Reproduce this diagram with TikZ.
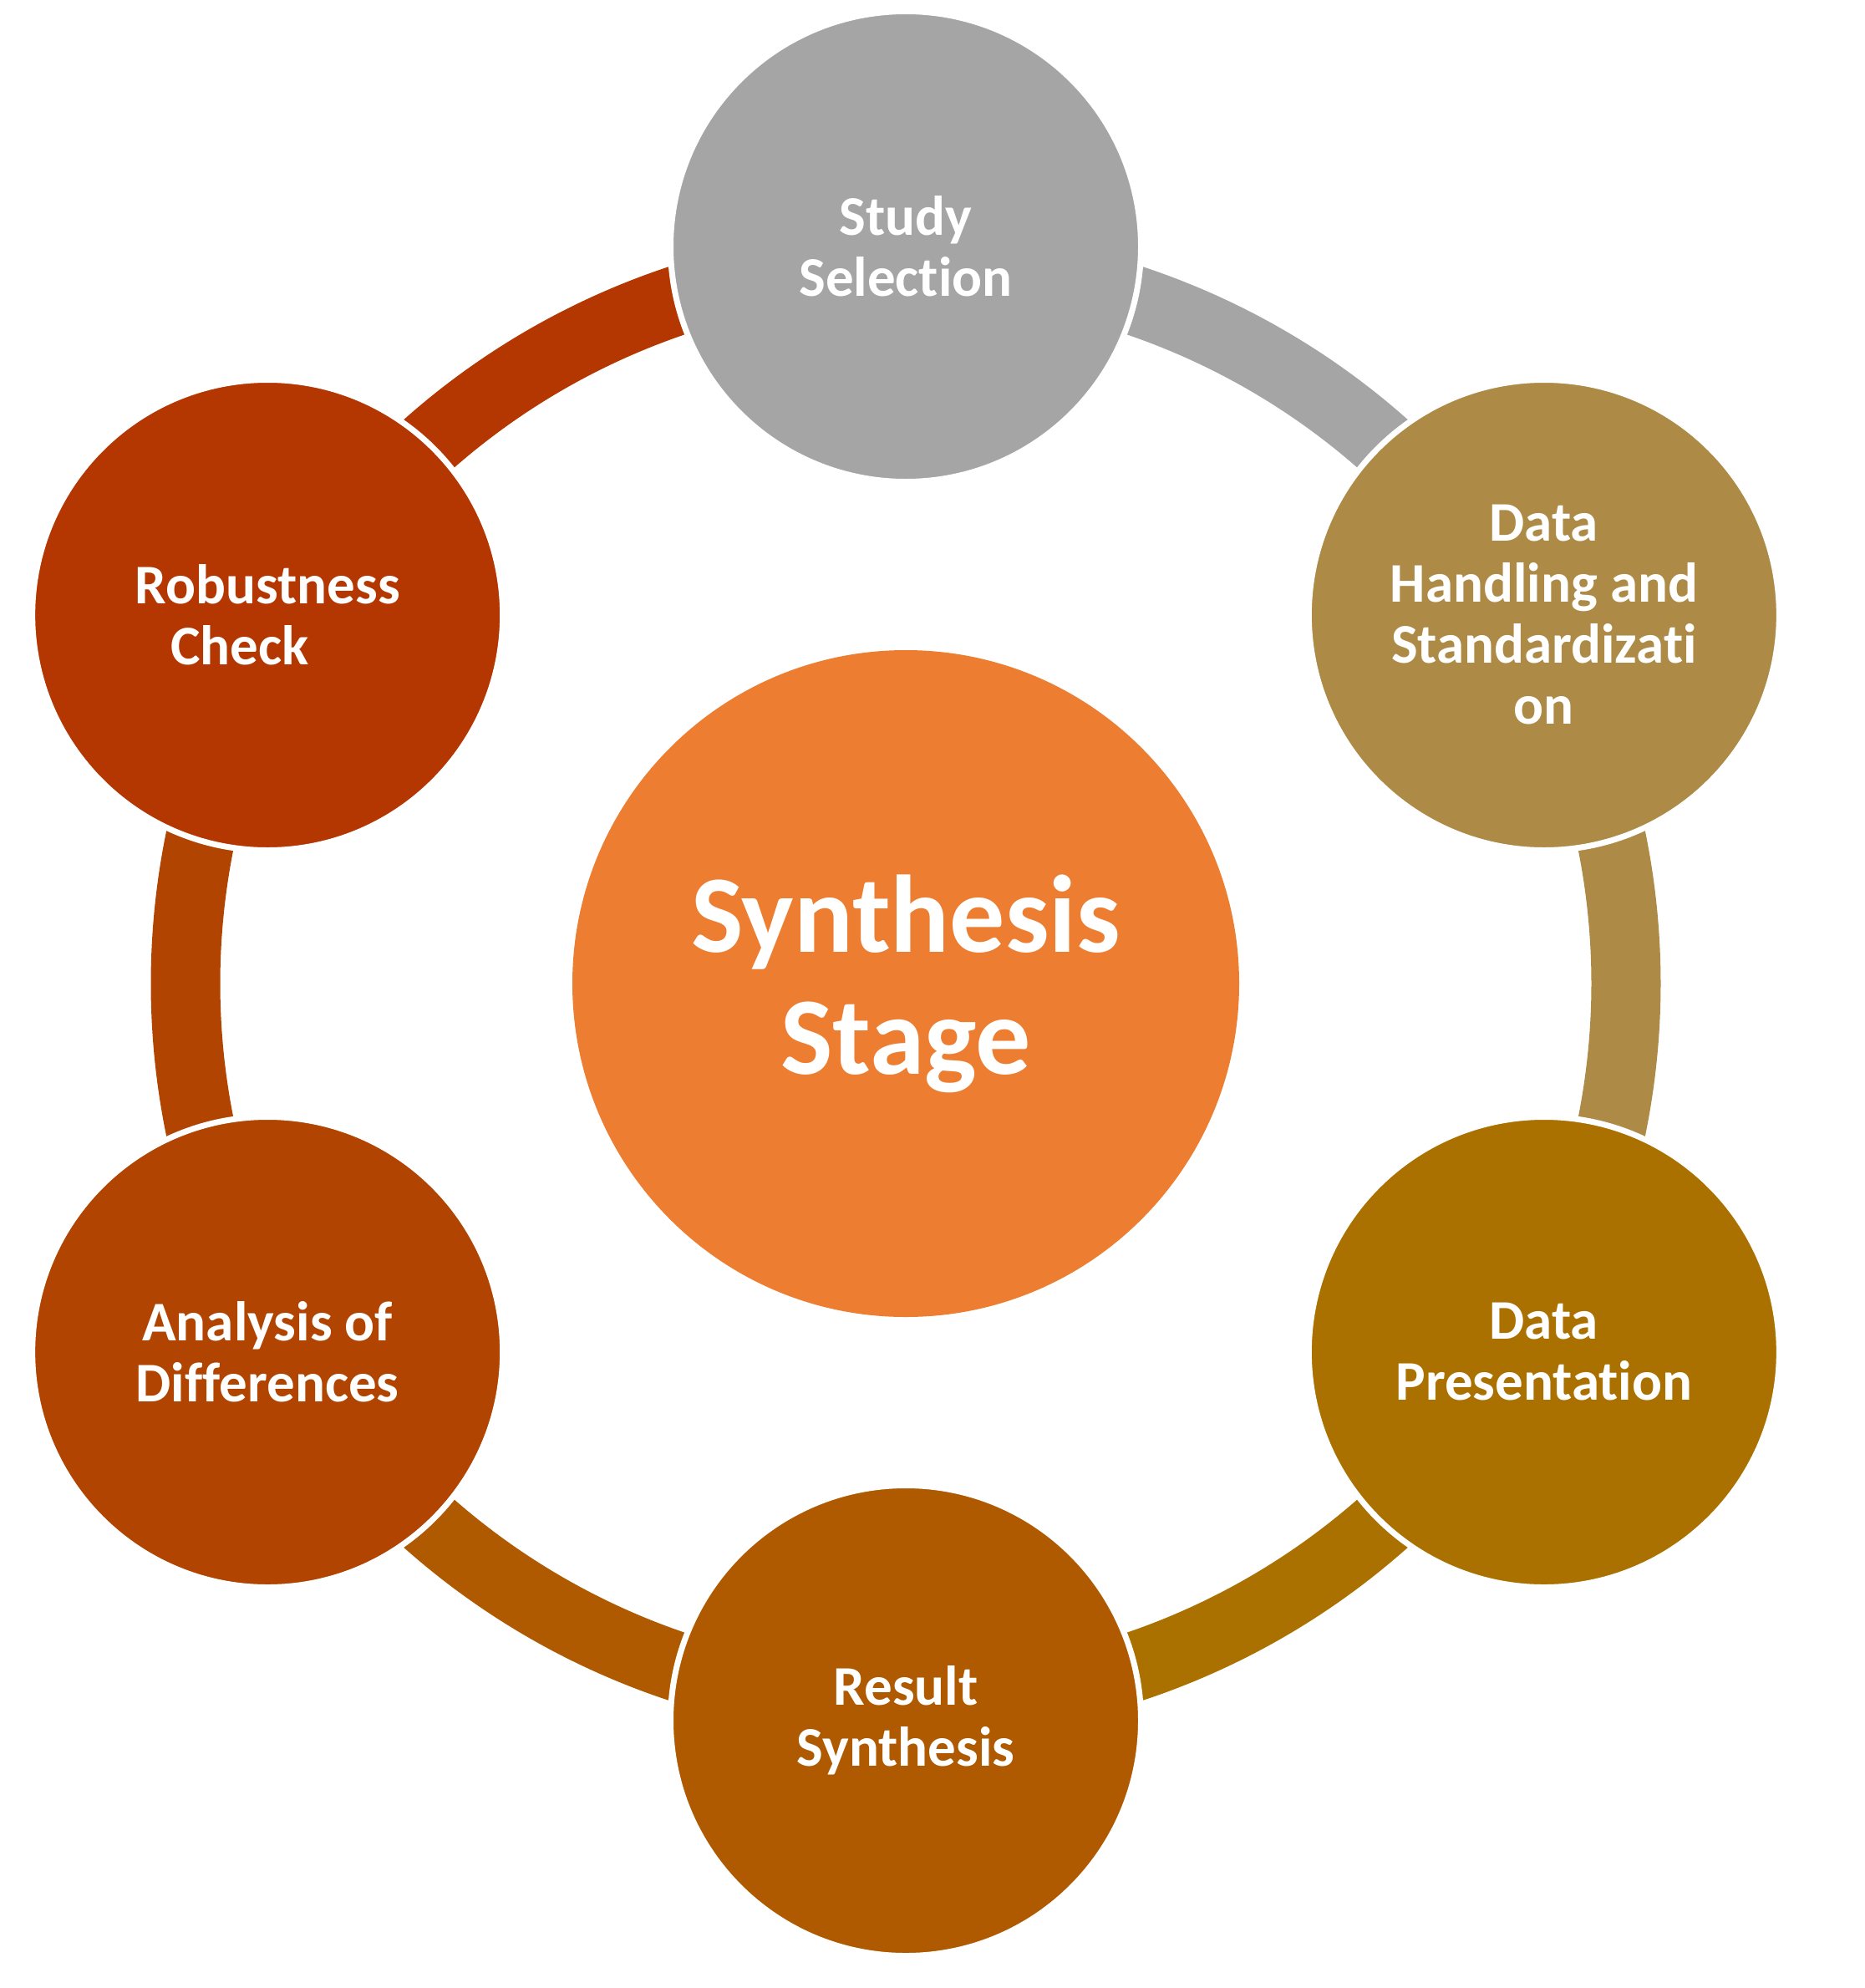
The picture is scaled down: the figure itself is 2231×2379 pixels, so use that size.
\documentclass[tikz,border=0pt]{standalone}
\usepackage{fontspec}
\setmainfont[Ligatures=NoCommon]{Carlito}
\definecolor{cStudy}{HTML}{A5A5A5}
\definecolor{cHandle}{HTML}{AD8B47}
\definecolor{cPresent}{HTML}{AB7100}
\definecolor{cResult}{HTML}{AF5A00}
\definecolor{cAnalysis}{HTML}{B04400}
\definecolor{cRobust}{HTML}{B43600}
\definecolor{cCenter}{HTML}{ED7D31}
\begin{document}
\begin{tikzpicture}[x=1pt,y=1pt,
  stage/.style={circle, draw=white, line width=7pt, minimum size=563pt, inner sep=0pt,
    text=white, align=center, font=\bfseries\fontsize{67}{73}\selectfont},
  hub/.style={circle, minimum size=798pt, inner sep=0pt, fill=cCenter,
    text=white, align=center, font=\bfseries\fontsize{132}{146}\selectfont},
  band/.style={line width=83pt}]
\useasboundingbox (0,0) rectangle (2231,-2379);
\coordinate (C) at (1084,-1177);
% ring segments
\draw[band, cStudy]    (C) ++(90:862)   arc[start angle=90,  end angle=30,   radius=862];
\draw[band, cHandle]   (C) ++(30:862)   arc[start angle=30,  end angle=-30,  radius=862];
\draw[band, cPresent]  (C) ++(-30:862)  arc[start angle=-30, end angle=-90,  radius=862];
\draw[band, cResult]   (C) ++(-90:862)  arc[start angle=-90, end angle=-150, radius=862];
\draw[band, cAnalysis] (C) ++(-150:862) arc[start angle=-150,end angle=-210, radius=862];
\draw[band, cRobust]   (C) ++(150:862)  arc[start angle=150, end angle=90,   radius=862];
% centre
\node[hub] (hub) at (C) {Synthesis\\Stage};
% stages
\node[stage, fill=cStudy]    (study)    at ([shift={(90:882)}]C)   {Study\\Selection};
\node[stage, fill=cHandle]   (handle)   at ([shift={(30:882)}]C)   {Data\\Handling and\\Standardizati\\on};
\node[stage, fill=cPresent]  (present)  at ([shift={(-30:882)}]C)  {Data\\Presentation};
\node[stage, fill=cResult]   (result)   at ([shift={(-90:882)}]C)  {Result\\Synthesis};
\node[stage, fill=cAnalysis] (analysis) at ([shift={(-150:882)}]C) {Analysis of\\Differences};
\node[stage, fill=cRobust]   (robust)   at ([shift={(150:882)}]C)  {Robustness\\Check\rule{66pt}{0pt}};
\end{tikzpicture}
\end{document}
